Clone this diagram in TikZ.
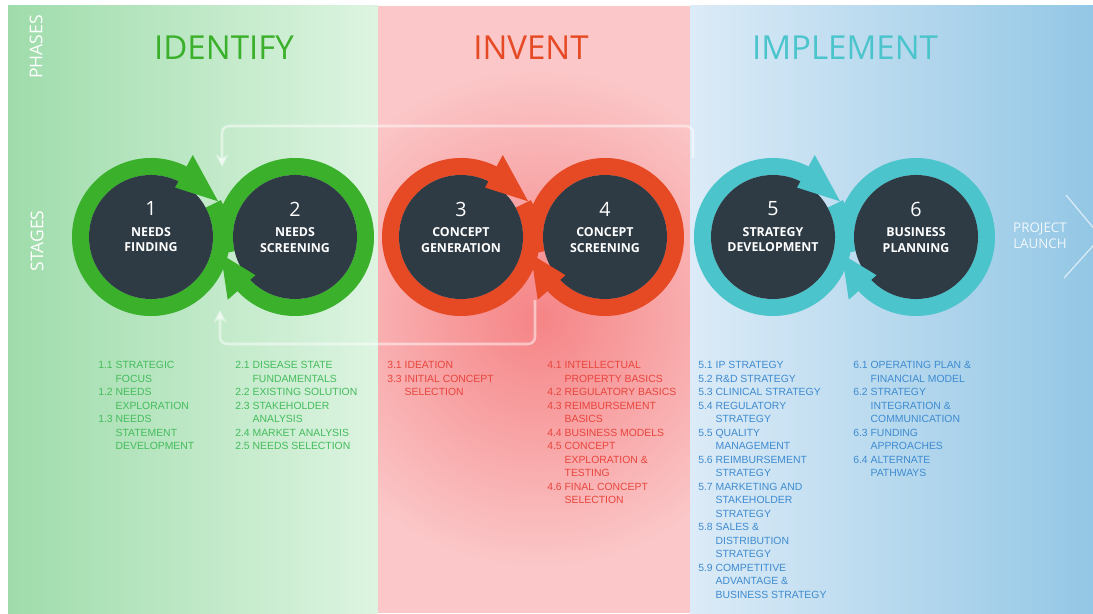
\documentclass[tikz,border=0pt]{standalone}
\usepackage{fontspec}
\setmainfont{Open Sans}
\newfontfamily\listfont{Liberation Sans}
\usetikzlibrary{positioning,calc,arrows.meta}
\definecolor{bandgreenL}{HTML}{9FDCAB}
\definecolor{bandgreenR}{HTML}{DDF4E1}
\definecolor{bandpink}{HTML}{FBC7C8}
\definecolor{glowred}{HTML}{F58486}
\definecolor{bandblueL}{HTML}{DCEBF7}
\definecolor{bandblueR}{HTML}{93C7E5}
\definecolor{ringgreen}{HTML}{3AB02B}
\definecolor{ringred}{HTML}{E64A24}
\definecolor{ringteal}{HTML}{4CC4CB}
\definecolor{slate}{HTML}{2E3B45}
\definecolor{txtgreen}{HTML}{44BC5C}
\definecolor{txtred}{HTML}{E8453C}
\definecolor{txtblue}{HTML}{3E8BD0}
\tikzset{
    >=Stealth,
    stage/.style={circle, fill=slate, minimum size=3.1cm, inner sep=0pt},
    stagename/.style={text=white, align=center, font=\bfseries\fontsize{8.8}{11.3}\selectfont},
    ring/.style={line width=0.425cm},
    phasename/.style={font=\fontsize{23.5}{25}\selectfont},
    sidelabel/.style={text=white, rotate=90, font=\fontsize{12.5}{13}\selectfont},
    tasklist/.style={anchor=north west, inner sep=0pt, align=left,
        font=\listfont\fontsize{7.4}{9.6}\selectfont},
    loopline/.style={white, opacity=0.5, line width=1.8pt, rounded corners=5pt,
        -{Stealth[length=9pt,width=9pt]}},
}
\newcommand{\tasklines}[1]{\begin{tabular}{@{}l@{\ }l@{}}#1\end{tabular}}

\begin{document}
\begin{tikzpicture}[x=0.025cm, y=0.025cm]
\useasboundingbox (0,0) rectangle (1093,613);
% phase bands
\fill[white] (0,0) rectangle (1093,613);
\shade[left color=bandgreenL, right color=bandgreenR] (8,0) rectangle (378,607);
\fill[bandpink] (378,0) rectangle (690,607);
\begin{scope}
  \clip (378,0) rectangle (690,607);
  \shade[inner color=glowred, outer color=bandpink] (538,295) circle[radius=250];
\end{scope}
\shade[left color=bandblueL, right color=bandblueR] (690,0) rectangle (1093,607);

\node[sidelabel] (phases) at (36,566) {PHASES};
\node[sidelabel] (stages) at (37,372) {STAGES};
\node[phasename, text=ringgreen] (identify) at (224,565) {IDENTIFY};
\node[phasename, text=ringred] (invent) at (531,565) {INVENT};
\node[phasename, text=ringteal] (implement) at (845,565) {IMPLEMENT};

% loops back
\coordinate (topstart) at (693,455);
\coordinate (topcorner) at (222,487);
\coordinate (topend) at (222,446);
\coordinate (botstart) at (535,313);
\coordinate (botcorner) at (220,269);
\coordinate (botend) at (220,303);
\draw[loopline] (topstart) |- (topcorner) -- (topend);
\draw[loopline] (botstart) |- (botcorner) -- (botend);

% rings
\foreach \x/\col in {151/ringgreen, 461/ringred, 773/ringteal}
  \draw[ring, \col] (\x,376) ++(63:70.5) arc[start angle=63, end angle=388, radius=70.5];
\foreach \x/\col in {295/ringgreen, 605/ringred, 916/ringteal}
  \draw[ring, \col] (\x,376) ++(223:70.5) arc[start angle=223, end angle=553, radius=70.5];

\node[stage] (s1) at (151,376) {};
\node[stage] (s2) at (295,376) {};
\node[stage] (s3) at (461,376) {};
\node[stage] (s4) at (605,376) {};
\node[stage] (s5) at (773,376) {};
\node[stage] (s6) at (916,376) {};

\foreach \s/\col in {s1/ringgreen, s3/ringred, s5/ringteal}
  \fill[\col, shift={(\s)}] (63:92) -- (28:76) -- (64:55) -- cycle;
\foreach \s/\col in {s2/ringgreen, s4/ringred, s6/ringteal}
  \fill[\col, shift={(\s)}] (223:92) -- (193:76) -- (224:55) -- cycle;

\foreach \s/\num/\a/\b in {s1/1/NEEDS/FINDING, s2/2/NEEDS/SCREENING,
    s3/3/CONCEPT/GENERATION, s4/4/CONCEPT/SCREENING,
    s5/5/STRATEGY/DEVELOPMENT, s6/6/BUSINESS/PLANNING}
  \node[stagename] (name\num) at ($(\s)+(0,10)$)
    {{\mdseries\fontsize{14}{14}\selectfont \num}\\[3pt]\a\\\b};

% launch
\node[stagename, font=\mdseries\fontsize{9.5}{11.3}\selectfont, text opacity=0.85]
  (launch) at (1040,377) {PROJECT\\LAUNCH};
\coordinate (chevtop) at (1066,418);
\coordinate (chevtip) at (1101,376);
\coordinate (chevbot) at (1064,335);
\draw[white, opacity=0.7, line width=0.8pt] (chevtop) -- (chevtip) -- (chevbot);

% activities
\node[tasklist, text=txtgreen] (list1) at (98,254) {\tasklines{
  1.1 & STRATEGIC\\ & FOCUS\\
  1.2 & NEEDS\\ & EXPLORATION\\
  1.3 & NEEDS\\ & STATEMENT\\ & DEVELOPMENT}};
\node[tasklist, text=txtgreen] (list2) at (235,254) {\tasklines{
  2.1 & DISEASE STATE\\ & FUNDAMENTALS\\
  2.2 & EXISTING SOLUTION\\
  2.3 & STAKEHOLDER\\ & ANALYSIS\\
  2.4 & MARKET ANALYSIS\\
  2.5 & NEEDS SELECTION}};
\node[tasklist, text=txtred] (list3) at (387,254) {\tasklines{
  3.1 & IDEATION\\
  3.3 & INITIAL CONCEPT\\ & SELECTION}};
\node[tasklist, text=txtred] (list4) at (547,254) {\tasklines{
  4.1 & INTELLECTUAL\\ & PROPERTY BASICS\\
  4.2 & REGULATORY BASICS\\
  4.3 & REIMBURSEMENT\\ & BASICS\\
  4.4 & BUSINESS MODELS\\
  4.5 & CONCEPT\\ & EXPLORATION \&\\ & TESTING\\
  4.6 & FINAL CONCEPT\\ & SELECTION}};
\node[tasklist, text=txtblue] (list5) at (698,254) {\tasklines{
  5.1 & IP STRATEGY\\
  5.2 & R\&D STRATEGY\\
  5.3 & CLINICAL STRATEGY\\
  5.4 & REGULATORY\\ & STRATEGY\\
  5.5 & QUALITY\\ & MANAGEMENT\\
  5.6 & REIMBURSEMENT\\ & STRATEGY\\
  5.7 & MARKETING AND\\ & STAKEHOLDER\\ & STRATEGY\\
  5.8 & SALES \&\\ & DISTRIBUTION\\ & STRATEGY\\
  5.9 & COMPETITIVE\\ & ADVANTAGE \&\\ & BUSINESS STRATEGY}};
\node[tasklist, text=txtblue] (list6) at (853,254) {\tasklines{
  6.1 & OPERATING PLAN \&\\ & FINANCIAL MODEL\\
  6.2 & STRATEGY\\ & INTEGRATION \&\\ & COMMUNICATION\\
  6.3 & FUNDING\\ & APPROACHES\\
  6.4 & ALTERNATE\\ & PATHWAYS}};
\end{tikzpicture}
\end{document}
